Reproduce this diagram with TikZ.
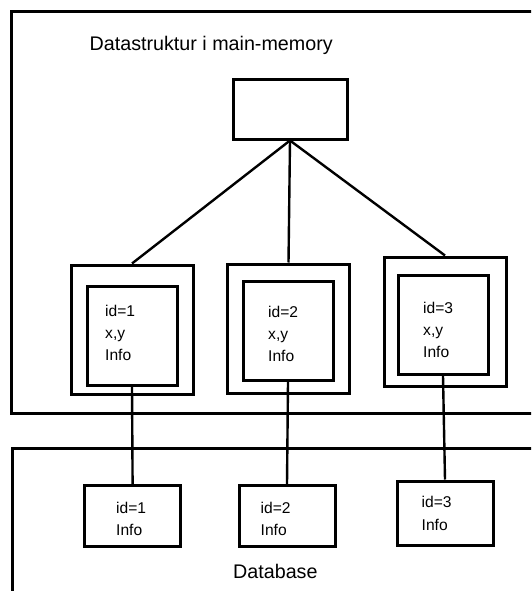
\documentclass[tikz,border=0pt]{standalone}
\usepackage{fontspec}
\setmainfont{Liberation Sans}
\begin{document}
\begin{tikzpicture}[x=1pt,y=-1pt,
  frame/.style={line width=3pt},
  box/.style={draw,line width=3pt,rectangle,inner sep=0pt},
  outerbox/.style={box,minimum width=122pt,minimum height=129pt},
  innerbox/.style={box,minimum width=90pt,minimum height=99pt},
  dbbox/.style={box,minimum width=96pt,minimum height=61pt},
  link/.style={line width=2.4pt},
  lbl/.style={anchor=base west,inner sep=0pt,font=\fontsize{15.6}{22}\selectfont},
  head/.style={anchor=base west,inner sep=0pt,font=\fontsize{19.7}{24}\selectfont}]
\useasboundingbox (0,0) rectangle (531,591);
\clip (0,0) rectangle (531,591);

% main-memory region and database region
\draw[frame] (560,11.5) -- (11.5,11.5) -- (11.5,413) -- (560,413);
\draw[frame] (560,448.5) -- (12.5,448.5) -- (12.5,620);
\node[head] (memtitle) at (89.5,51) {Datastruktur i main-memory};
\node[head] (dbtitle) at (233,578) {Database};

% root of the structure
\node[box,minimum width=114pt,minimum height=59pt] (root) at (290,109.5) {};

% objects in main memory
\node[outerbox] (o1) at (132,329.5) {};
\node[innerbox] (i1) at (132,336) {};
\node[outerbox] (o2) at (288.5,328.5) {};
\node[innerbox] (i2) at (288,331) {};
\node[outerbox] (o3) at (445,321.5) {};
\node[innerbox] (i3) at (443,325) {};

\node[lbl] (i1a) at (105,316.5) {id=1};
\node[lbl] (i1b) at (105,338.5) {x,y};
\node[lbl] (i1c) at (105,360.5) {Info};
\node[lbl] (i2a) at (268,317.5) {id=2};
\node[lbl] (i2b) at (268,339.5) {x,y};
\node[lbl] (i2c) at (268,361.5) {Info};
\node[lbl] (i3a) at (423,313.5) {id=3};
\node[lbl] (i3b) at (423,335.5) {x,y};
\node[lbl] (i3c) at (423,357.5) {Info};

% records in the database
\node[dbbox] (d1) at (132.6,516) {};
\node[dbbox] (d2) at (287,516) {};
\node[dbbox,minimum height=64pt] (d3) at (445,513) {};

\node[lbl] (d1a) at (116,513.5) {id=1};
\node[lbl] (d1b) at (116,535.5) {Info};
\node[lbl] (d2a) at (260.5,513.5) {id=2};
\node[lbl] (d2b) at (260.5,535.5) {Info};
\node[lbl] (d3a) at (421.5,507) {id=3};
\node[lbl] (d3b) at (421.5,530) {Info};

% links
\draw[link] (root.south) -- (o1.north);
\draw[link] (root.south) -- (o2.north);
\draw[link] (root.south) -- (o3.north);
\draw[link] (i1.south) -- (d1.north);
\draw[link] (i2.south) -- (d2.north);
\draw[link] (i3.south) -- (d3.north);
\end{tikzpicture}
\end{document}
